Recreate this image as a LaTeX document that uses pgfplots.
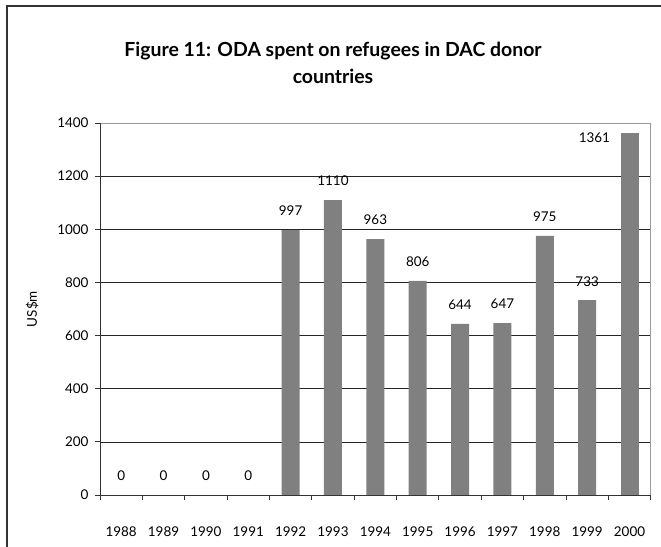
\documentclass[border=0pt]{standalone}
\usepackage{fontspec}
\setmainfont{Lato}
\usepackage{pgfplots}
\pgfplotsset{compat=1.18}
\definecolor{barg}{HTML}{808080}
\begin{document}
\begin{tikzpicture}
\useasboundingbox (0bp,0bp) rectangle (661bp,547bp);
\draw[line width=1.2bp, black!80] (7bp,0bp) -- (7bp,541bp) -- (661bp,541bp);
\node[font=\fontsize{19.5}{27}\selectfont\bfseries, align=center] at (333bp,484bp) {Figure 11: ODA spent on refugees in DAC donor\\countries};
\begin{axis}[
  at={(100bp,52bp)}, anchor=south west,
  scale only axis, width=550.7bp, height=372bp,
  xmin=-0.5, xmax=12.5, ymin=0, ymax=1400,
  ybar, bar width=18bp, bar shift=0pt,
  xtick={0,...,12},
  xticklabels={1988,1989,1990,1991,1992,1993,1994,1995,1996,1997,1998,1999,2000},
  minor xtick={-0.5,0.5,...,12.5},
  ytick={0,200,...,1400},
  major x tick style={draw=none},
  tick align=outside, xtick pos=bottom, ytick pos=left,
  major tick length=5bp, minor tick length=5bp,
  tick style={black!80, line width=0.8bp},
  ymajorgrids, grid style={black!85, line width=0.7bp},
  axis line style={draw=gray!80, line width=0.8bp},
  ticklabel style={font=\fontsize{13.5}{15}\selectfont},
  /pgf/number format/assume math mode=true,
  /pgf/number format/1000 sep={},
  yticklabel style={xshift=-3bp},
  xticklabel style={yshift=-23bp},
  ylabel={US\$m},
  ylabel style={at={(axis description cs:-0.123,0.5)}, anchor=center, font=\fontsize{13.5}{15}\selectfont},
  nodes near coords,
  nodes near coords style={font=\fontsize{13.5}{15}\selectfont, anchor=center, yshift=19bp, /pgf/number format/assume math mode=true, /pgf/number format/1000 sep={}},
  clip=false,
]
\addplot[fill=barg, draw=none] coordinates {(0,0) (1,0) (2,0) (3,0) (4,997) (5,1110) (6,963) (7,806) (8,644) (9,647) (10,975) (11,733)};
\addplot[fill=barg, draw=none, nodes near coords=] coordinates {(12,1361)};
\node[font=\fontsize{13.5}{15}\selectfont, anchor=east] at (axis cs:12,1361) [xshift=-16bp, yshift=-4bp] {1361};
\draw[black!80, line width=1bp] (rel axis cs:0,1) -- (rel axis cs:0,0) -- (rel axis cs:1,0);
\end{axis}
\end{tikzpicture}
\end{document}
